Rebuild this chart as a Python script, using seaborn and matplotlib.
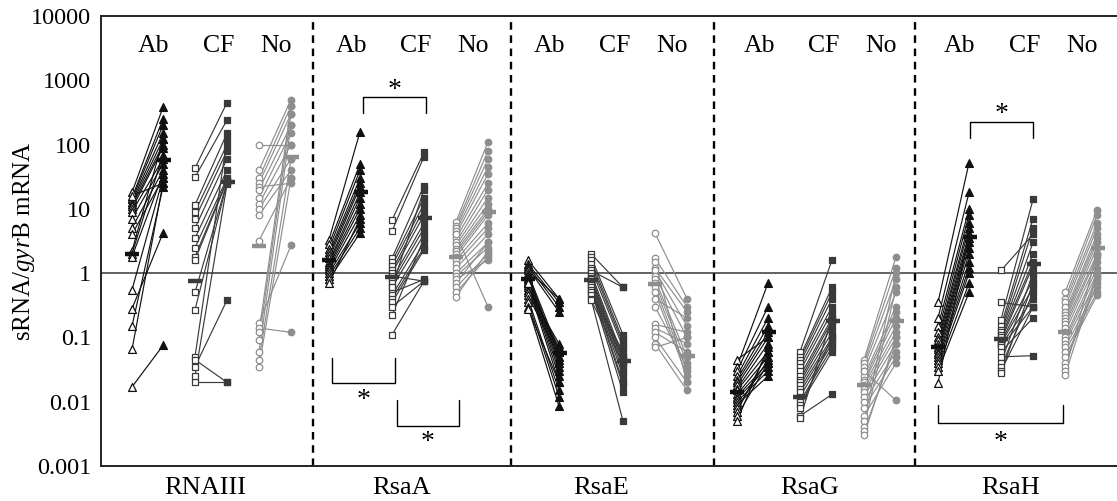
import numpy as np
import pandas as pd
import matplotlib
matplotlib.use("Agg")
import matplotlib.pyplot as plt
import seaborn as sns
from matplotlib.transforms import blended_transform_factory

sns.set_theme(style="white")
plt.rcParams["font.family"] = ["Liberation Serif", "DejaVu Serif"]
plt.rcParams["mathtext.fontset"] = "custom"
plt.rcParams["mathtext.rm"] = "Liberation Serif"
plt.rcParams["mathtext.it"] = "Liberation Serif:italic"

# ---------------- data ----------------
panels = ["RNAIII", "RsaA", "RsaE", "RsaG", "RsaH"]
groups = ["Ab", "CF", "No"]
ytick_values = [0.001, 0.01, 0.1, 1, 10, 100, 1000, 10000]
ytick_labels = ["0.001", "0.01", "0.1", "1", "10", "100", "1000", "10000"]

RNAIII_Ab_early = [18, 15, 14, 13, 12, 11, 10, 9, 7, 5, 4, 16, 2.2, 2.0, 1.8, 0.55, 0.28, 0.15, 0.065, 0.017]
RNAIII_Ab_late = [380, 250, 200, 150, 120, 100, 90, 60, 50, 40, 30, 25, 120, 70, 35, 30, 4.2, 22, 25, 0.075]
RNAIII_CF_early = [43, 31, 11.5, 9, 7, 5, 3.5, 2.5, 1.8, 1.6, 0.5, 0.27, 0.05, 0.035, 0.045, 0.02, 0.025]
RNAIII_CF_late = [450, 240, 150, 100, 80, 60, 40, 30, 28, 27, 26, 25, 120, 0.38, 0.02, 0.02, 24]
RNAIII_No_early = [100, 40, 30, 25, 22, 20, 15, 12, 10, 8, 3.2, 0.17, 0.14, 0.12, 0.09, 0.06, 0.045, 0.035]
RNAIII_No_late = [100, 500, 400, 300, 25, 200, 150, 100, 60, 40, 30, 2.7, 0.12, 400, 300, 200, 60, 30]

RsaA_Ab_early = [3.3, 2.8, 2.4, 2.1, 1.9, 1.7, 1.5, 1.4, 1.3, 1.2, 1.1, 1.0, 0.9, 0.8, 0.7]
RsaA_Ab_late = [158, 50, 40, 30, 25, 22, 18, 15, 12, 10, 8, 6, 5, 4.2, 7]
RsaA_CF_early = [6.7, 4.5, 1.7, 1.5, 1.3, 1.1, 1.0, 0.9, 0.8, 0.7, 0.6, 0.5, 0.45, 0.4, 0.35, 0.3, 0.22, 0.11, 0.6]
RsaA_CF_late = [76, 65, 23, 15, 12, 10, 8, 0.75, 6, 5, 4, 0.8, 3, 2.5, 2.3, 0.75, 3.5, 0.75, 20]
RsaA_No_early = [6.3, 5.5, 5, 4.5, 4, 3.5, 3, 2.7, 2.4, 2.2, 2, 1.8, 1.6, 1.4, 1.2, 1.0, 0.9, 0.8, 0.7, 0.6, 0.5, 0.43, 4.0]
RsaA_No_late = [110, 80, 60, 45, 35, 25, 20, 15, 12, 10, 9, 8, 6, 5, 4, 3, 2.5, 1.6, 3, 2, 1.8, 2.2, 0.3]

RsaE_Ab_early = [1.6, 1.4, 1.3, 1.2, 1.1, 1.0, 0.95, 0.9, 0.85, 0.8, 0.75, 0.7, 0.65, 0.6, 0.55, 0.5, 0.45, 0.4, 0.35, 0.3, 0.28, 0.7]
RsaE_Ab_late = [0.4, 0.35, 0.3, 0.25, 0.4, 0.06, 0.05, 0.045, 0.04, 0.035, 0.03, 0.025, 0.02, 0.07, 0.08, 0.06, 0.05, 0.015, 0.012, 0.0085, 0.02, 0.06]
RsaE_CF_early = [2.0, 1.8, 1.6, 1.4, 1.2, 1.1, 1.0, 0.9, 0.85, 0.8, 0.75, 0.7, 0.65, 0.6, 0.55, 0.5, 0.45, 0.4, 0.38]
RsaE_CF_late = [0.6, 0.11, 0.09, 0.08, 0.07, 0.6, 0.05, 0.045, 0.04, 0.035, 0.03, 0.025, 0.02, 0.018, 0.014, 0.06, 0.05, 0.005, 0.04]
RsaE_No_early = [4.2, 1.7, 1.5, 1.2, 1.1, 0.9, 0.8, 0.7, 0.6, 0.5, 0.4, 0.16, 0.14, 0.12, 0.1, 0.08, 0.07, 0.3]
RsaE_No_late = [0.4, 0.3, 0.02, 0.25, 0.15, 0.1, 0.05, 0.04, 0.03, 0.025, 0.2, 0.12, 0.08, 0.06, 0.02, 0.015, 0.1, 0.035]

RsaG_Ab_early = [0.045, 0.035, 0.03, 0.025, 0.022, 0.02, 0.018, 0.016, 0.015, 0.013, 0.012, 0.011, 0.01, 0.009, 0.008, 0.007, 0.006, 0.005]
RsaG_Ab_late = [0.1, 0.7, 0.3, 0.2, 0.15, 0.12, 0.1, 0.08, 0.06, 0.05, 0.04, 0.035, 0.03, 0.025, 0.045, 0.06, 0.04, 0.07]
RsaG_CF_early = [0.06, 0.05, 0.045, 0.04, 0.035, 0.03, 0.025, 0.022, 0.02, 0.018, 0.016, 0.014, 0.012, 0.01, 0.009, 0.008, 0.006, 0.0055]
RsaG_CF_late = [1.6, 0.6, 0.5, 0.4, 0.3, 0.25, 0.2, 0.18, 0.15, 0.12, 0.1, 0.09, 0.08, 0.07, 0.06, 0.1, 0.013, 0.2]
RsaG_No_early = [0.045, 0.04, 0.035, 0.03, 0.025, 0.022, 0.02, 0.018, 0.016, 0.014, 0.012, 0.01, 0.008, 0.006, 0.005, 0.004, 0.0035, 0.003, 0.03]
RsaG_No_late = [1.8, 1.2, 0.8, 0.5, 0.3, 0.25, 0.2, 0.15, 0.12, 0.1, 0.08, 0.06, 0.05, 0.04, 1.0, 0.6, 0.08, 0.1, 0.0105]

RsaH_Ab_early = [0.35, 0.2, 0.15, 0.12, 0.1, 0.09, 0.08, 0.07, 0.065, 0.06, 0.055, 0.05, 0.045, 0.04, 0.035, 0.03, 0.0195]
RsaH_Ab_late = [52, 18, 10, 8, 6, 5, 4, 3.5, 3, 2.5, 2, 1.5, 1.2, 1.0, 0.7, 0.5, 4]
RsaH_CF_early = [1.1, 0.35, 0.19, 0.15, 0.13, 0.12, 0.11, 0.1, 0.09, 0.085, 0.08, 0.075, 0.07, 0.06, 0.05, 0.04, 0.035, 0.03, 0.028]
RsaH_CF_late = [4, 0.3, 14, 7, 5, 3, 2, 1.5, 1.3, 0.8, 0.6, 0.4, 0.3, 0.2, 0.052, 1.0, 0.5, 0.3, 0.7]
RsaH_No_early = [0.5, 0.4, 0.35, 0.3, 0.25, 0.22, 0.2, 0.18, 0.16, 0.14, 0.12, 0.1, 0.09, 0.08, 0.07, 0.06, 0.05, 0.04, 0.035, 0.03, 0.026]
RsaH_No_late = [9.5, 8, 6, 5, 4, 3.5, 3, 2.5, 2, 1.8, 1.5, 1.2, 1.0, 0.8, 0.6, 0.5, 0.45, 0.7, 1.0, 2.0, 0.9]

# medians: Ab early, Ab late, CF early, CF late, No early, No late
RNAIII_medians = [2.0, 58, 0.75, 26, 2.6, 64]
RsaA_medians = [1.6, 18, 0.87, 7.2, 1.78, 8.9]
RsaE_medians = [0.81, 0.058, 0.77, 0.043, 0.68, 0.051]
RsaG_medians = [0.014, 0.12, 0.012, 0.18, 0.018, 0.18]
RsaH_medians = [0.071, 3.6, 0.095, 1.38, 0.12, 2.5]

# ---------------- layout (pixel-like x coordinates) ----------------
panel_base = [132, 329, 528, 737, 938]
early_off = {"Ab": 0, "CF": 63, "No": 127}
late_off = {"Ab": 31, "CF": 95, "No": 159}
label_off = {"Ab": 22, "CF": 87, "No": 144}
separators = [313, 511, 714, 915]
colors = {"Ab": "#111111", "CF": "#3a3a3a", "No": "#8e8e8e"}
markers = {"Ab": "^", "CF": "s", "No": "o"}
msize = {"Ab": 32, "CF": 22, "No": 22}

g = globals()
rows, med_rows = [], []
for p, pname in enumerate(panels):
    meds = g[f"{pname}_medians"]
    for k, gname in enumerate(groups):
        early = g[f"{pname}_{gname}_early"]
        late = g[f"{pname}_{gname}_late"]
        for i, (a, b) in enumerate(zip(early, late)):
            uid = f"{pname}-{gname}-{i}"
            rows.append(dict(uid=uid, group=gname, time="early",
                             x=panel_base[p] + early_off[gname], value=a))
            rows.append(dict(uid=uid, group=gname, time="late",
                             x=panel_base[p] + late_off[gname], value=b))
        med_rows.append(dict(group=gname, x=panel_base[p] + early_off[gname], value=meds[2 * k]))
        med_rows.append(dict(group=gname, x=panel_base[p] + late_off[gname] + 1, value=meds[2 * k + 1]))
df = pd.DataFrame(rows)
med = pd.DataFrame(med_rows)

# ---------------- figure ----------------
fig = plt.figure(figsize=(11.17, 5.01), dpi=100)
ax = fig.add_axes([101 / 1117, 35 / 501, 1 - 101 / 1117, 450 / 501])
ax.set_yscale("log")

ax.axhline(1, color="#555555", lw=1.3, zorder=1)
for s in separators:
    ax.axvline(s, color="black", lw=1.7, ls=(0, (3.2, 2.4)), zorder=1)

sns.lineplot(data=df, x="x", y="value", units="uid", estimator=None, hue="group",
             palette=colors, lw=0.85, legend=False, sort=False, ax=ax, zorder=2)

for gname in groups:
    e = df[(df.group == gname) & (df.time == "early")]
    l = df[(df.group == gname) & (df.time == "late")]
    sns.scatterplot(data=e, x="x", y="value", marker=markers[gname], color="white",
                    edgecolor=colors[gname], linewidth=0.9, s=msize[gname], ax=ax, zorder=3)
    sns.scatterplot(data=l, x="x", y="value", marker=markers[gname], color=colors[gname],
                    edgecolor=colors[gname], linewidth=0.9, s=msize[gname], ax=ax, zorder=3)
    m = med[med.group == gname]
    sns.scatterplot(data=m, x="x", y="value", marker="_", color=colors[gname],
                    linewidth=3.2, s=110, ax=ax, zorder=4)

ax.set_xlim(101, 1117)
ax.set_ylim(0.001, 10000)
ax.set_yticks(ytick_values)
ax.set_yticklabels(ytick_labels)
ax.yaxis.set_minor_locator(matplotlib.ticker.NullLocator())
ax.set_xticks([])
ax.set_xlabel("")
ax.tick_params(axis="y", length=0, pad=7, labelsize=17.5, labelcolor="black")
ax.set_ylabel("sRNA/$\\mathit{gyr}$B mRNA", fontsize=18, color="black")
ax.yaxis.set_label_coords(-0.063, 0.5)

for side in ["left", "top", "bottom"]:
    ax.spines[side].set_visible(True)
    ax.spines[side].set_color("#222222")
    ax.spines[side].set_linewidth(1.4)
ax.spines["right"].set_visible(False)

trans = blended_transform_factory(ax.transData, ax.transAxes)
for p, pname in enumerate(panels):
    for gname in groups:
        ax.text(panel_base[p] + label_off[gname], 0.933, gname, transform=trans,
                ha="center", va="center", fontsize=18.5, color="black")
    ax.text(panel_base[p] + 73, -0.048, pname, transform=trans,
            ha="center", va="center", fontsize=19, color="black")

# significance brackets
def bracket(x0, x1, y_end, y_bar, star_y):
    ax.plot([x0, x0, x1, x1], [y_end, y_bar, y_bar, y_end], color="black", lw=1.0, zorder=5)
    ax.text((x0 + x1) / 2, star_y, "*", ha="center", va="center", fontsize=20,
            color="black", zorder=5)

bracket(363, 426, 310, 550, 700)
bracket(332, 395, 0.048, 0.0196, 0.0105)
bracket(397, 459, 0.0107, 0.0042, 0.0023)
bracket(970, 1033, 127, 225, 290)
bracket(938, 1063, 0.0089, 0.0047, 0.0023)

fig.savefig("out.png", dpi=100)
